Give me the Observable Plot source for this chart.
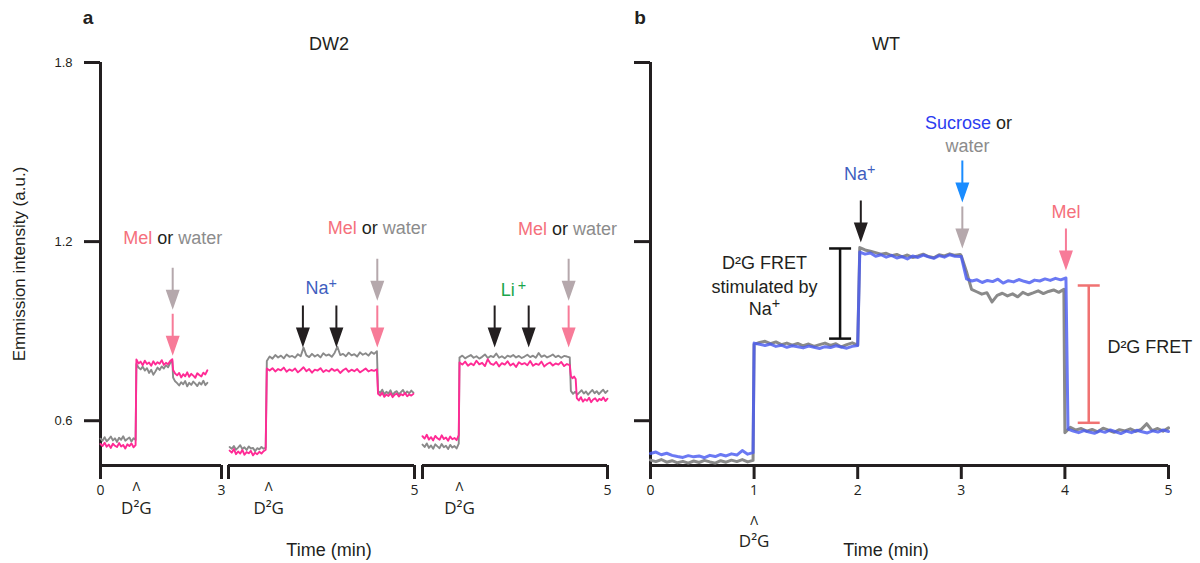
<!DOCTYPE html>
<html><head><meta charset="utf-8">
<script src="https://cdn.jsdelivr.net/npm/d3@7"></script>
<script src="https://cdn.jsdelivr.net/npm/@observablehq/plot@0.6"></script>
<style>
body{margin:0;background:#fff;}
#fig{position:relative;width:1200px;height:563px;overflow:hidden;font-family:'Liberation Sans',Arial,Helvetica,sans-serif;color:#231f20;}
.lbl{position:absolute;white-space:nowrap;transform:translate(-50%,-50%);}
</style></head><body><div id="fig"></div>
<script>
// ---------------- DATA ----------------
// Panel a, DW2, sub-panel 1 (0–3 min): gray = water, pink = Mel
const a1Segs = [[0, 0.87], [0.89, 1.78], [1.80, 2.65]];
const a1Gray = [
  [0.540,0.533,0.545,0.531,0.538,0.547,0.534,0.541,0.529,0.543,0.536,0.548,0.533,0.539,0.544,0.530,0.541,0.536],
  [0.790,0.778,0.772,0.781,0.768,0.776,0.760,0.771,0.754,0.765,0.778,0.770,0.782,0.775,0.786,0.779,0.793,0.801],
  [0.745,0.732,0.726,0.718,0.729,0.722,0.733,0.715,0.727,0.720,0.731,0.724,0.716,0.728,0.721,0.734,0.719,0.727]
];
const a1Pink = [
  [0.522,0.515,0.526,0.513,0.520,0.509,0.523,0.516,0.512,0.525,0.514,0.519,0.507,0.521,0.515,0.524,0.511,0.518],
  [0.805,0.792,0.798,0.786,0.801,0.790,0.795,0.784,0.799,0.788,0.796,0.791,0.803,0.787,0.794,0.789,0.800,0.806],
  [0.770,0.758,0.752,0.760,0.745,0.756,0.749,0.762,0.747,0.757,0.751,0.744,0.759,0.753,0.748,0.761,0.755,0.769]
];
// sub-panel 2 (Na+)
const a2Segs = [[0.03, 1.0], [1.03, 3.99], [4.02, 4.97]];
const a2Gray = [
  [0.512,0.506,0.515,0.503,0.510,0.518,0.505,0.511,0.502,0.514,0.507,0.509,0.498,0.508,0.504,0.512,0.506,0.510],
  [0.800,0.815,0.808,0.820,0.812,0.818,0.809,0.822,0.814,0.817,0.811,0.823,0.816,0.845,0.819,0.813,0.824,0.815,0.821,0.812,
   0.826,0.818,0.822,0.814,0.827,0.848,0.820,0.824,0.816,0.828,0.819,0.823,0.815,0.829,0.821,0.826,0.818,0.830,0.824,0.833],
  [0.700,0.693,0.704,0.689,0.697,0.691,0.702,0.686,0.695,0.699,0.688,0.696,0.703,0.690,0.698,0.692,0.701,0.694]
];
const a2Pink = [
  [0.500,0.493,0.505,0.488,0.497,0.490,0.502,0.486,0.495,0.491,0.499,0.484,0.493,0.488,0.496,0.490,0.498,0.503],
  [0.775,0.768,0.776,0.765,0.773,0.769,0.778,0.764,0.772,0.767,0.775,0.762,0.770,0.779,0.766,0.773,0.761,0.771,0.768,0.776,
   0.763,0.770,0.765,0.774,0.767,0.772,0.760,0.769,0.775,0.764,0.771,0.766,0.773,0.762,0.768,0.775,0.765,0.770,0.767,0.772],
  [0.690,0.684,0.694,0.680,0.688,0.683,0.692,0.679,0.687,0.691,0.681,0.689,0.685,0.693,0.682,0.688,0.684,0.690]
];
// sub-panel 3 (Li+)
const a3GraySegs = [[0, 0.98], [1.0, 3.98], [4.01, 5.0]];
const a3PinkSegs = [[0, 0.98], [1.0, 3.98], [4.01, 4.14], [4.17, 5.0]];
const a3Gray = [
  [0.520,0.512,0.524,0.509,0.517,0.506,0.521,0.514,0.508,0.522,0.511,0.516,0.505,0.519,0.510,0.515,0.507,0.523],
  [0.812,0.818,0.809,0.815,0.820,0.811,0.816,0.808,0.814,0.822,0.810,0.817,0.813,0.825,0.811,0.816,0.809,0.818,0.814,0.820,
   0.812,0.817,0.810,0.815,0.821,0.813,0.818,0.811,0.827,0.814,0.819,0.812,0.816,0.822,0.813,0.818,0.811,0.817,0.815,0.812],
  [0.700,0.690,0.697,0.688,0.695,0.702,0.691,0.698,0.687,0.696,0.703,0.692,0.699,0.689,0.697,0.704,0.693,0.700]
];
const a3Pink = [
  [0.548,0.540,0.553,0.537,0.545,0.534,0.549,0.541,0.536,0.551,0.539,0.544,0.533,0.547,0.538,0.542,0.535,0.552],
  [0.795,0.788,0.798,0.784,0.792,0.786,0.801,0.789,0.794,0.783,0.806,0.791,0.787,0.797,0.782,0.793,0.788,0.799,0.785,0.792,
   0.780,0.796,0.789,0.793,0.786,0.800,0.784,0.791,0.787,0.798,0.782,0.790,0.795,0.785,0.792,0.788,0.797,0.783,0.790,0.786],
  [0.750,0.742,0.748,0.740],
  [0.676,0.668,0.679,0.664,0.672,0.667,0.677,0.662,0.671,0.675,0.665,0.673,0.669,0.678,0.666,0.674]
];
// Panel b, WT: gray = water, blue = sucrose
const bGraySegs = [[0, 0.99], [1.0, 2.0], [2.02, 2.99], [3.0, 3.99], [4.0, 5.0]];
const bBlueSegs = [[0, 0.99], [1.0, 2.0], [2.02, 2.99], [3.0, 4.01], [4.03, 5.0]];
const bGray = [
  [0.468,0.463,0.470,0.461,0.466,0.459,0.464,0.458,0.465,0.460,0.467,0.462,0.458,0.466,0.461,0.468,0.463,0.470,0.462,0.467],
  [0.856,0.862,0.866,0.858,0.864,0.855,0.860,0.853,0.859,0.851,0.857,0.849,0.855,0.860,0.852,0.858,0.847,0.855,0.861,0.853],
  [1.180,1.172,1.168,1.163,1.158,1.161,1.153,1.157,1.149,1.155,1.147,1.152,1.158,1.150,1.146,1.156,1.152,1.159,1.154,1.157],
  [1.152,1.100,1.040,1.032,1.024,1.029,0.998,1.020,1.027,1.018,1.025,1.015,1.030,1.022,1.028,1.035,1.026,1.033,1.038,1.030,1.040],
  [0.560,0.578,0.569,0.574,0.565,0.571,0.563,0.575,0.568,0.561,0.570,0.566,0.573,0.564,0.571,0.590,0.567,0.574,0.565,0.576]
];
const bBlue = [
  [0.490,0.495,0.486,0.491,0.484,0.480,0.477,0.483,0.479,0.482,0.476,0.484,0.480,0.487,0.482,0.489,0.485,0.500,0.488,0.493],
  [0.860,0.856,0.852,0.857,0.849,0.853,0.846,0.851,0.848,0.844,0.850,0.846,0.842,0.848,0.845,0.851,0.847,0.843,0.849,0.852],
  [1.165,1.158,1.162,1.151,1.156,1.148,1.154,1.145,1.150,1.142,1.152,1.147,1.155,1.149,1.144,1.153,1.148,1.156,1.151,1.150],
  [1.150,1.075,1.068,1.072,1.063,1.070,1.066,1.074,1.061,1.069,1.065,1.073,1.067,1.062,1.071,1.068,1.075,1.070,1.077,1.072,1.078],
  [0.572,0.565,0.560,0.567,0.562,0.558,0.566,0.561,0.569,0.563,0.557,0.565,0.560,0.568,0.563,0.559,0.566,0.562,0.569,0.564]
];
// annotations (time, value at arrow tip, kind)
const a1Arrows = [{t:1.79,y:0.972,kind:"water"},{t:1.79,y:0.818,kind:"mel"}];
const a2Arrows = [{t:2.0,y:0.845,kind:"ion"},{t:2.9,y:0.845,kind:"ion"},{t:4.0,y:1.002,kind:"water"},{t:4.0,y:0.845,kind:"mel"}];
const a3Arrows = [{t:1.95,y:0.845,kind:"ion"},{t:2.87,y:0.845,kind:"ion"},{t:3.95,y:1.002,kind:"water"},{t:3.95,y:0.845,kind:"mel"}];
const bArrows  = [{t:2.03,y:1.197,kind:"ion"},{t:3.01,y:1.331,kind:"sucrose"},{t:3.01,y:1.177,kind:"water"},{t:4.01,y:1.103,kind:"mel"}];
const a1Texts = [{t:1.79,y:1.210,label:"Mel or water",kind:"plain"}];
const a2Texts = [{t:4.0,y:1.244,label:"Mel or water",kind:"plain"},{t:2.49,y:1.043,label:"Na+",kind:"na"}];
const a3Texts = [{t:3.92,y:1.240,label:"Mel or water",kind:"plain"},{t:2.46,y:1.036,label:"Li+",kind:"li"}];
const bTexts = [
  {t:2.02,y:1.425,label:"Na+",kind:"na"},
  {t:3.07,y:1.596,label:"Sucrose or",kind:"plain"},
  {t:3.06,y:1.519,label:"water",kind:"water"},
  {t:4.01,y:1.297,label:"Mel",kind:"mel"},
  {t:1.10,y:1.126,label:"D²G FRET",kind:"plain"},
  {t:1.10,y:1.046,label:"stimulated by",kind:"plain"},
  {t:1.10,y:0.975,label:"Na+",kind:"plain"}
];
const bSideText = [{t:4.41,y:0.845,label:"D²G FRET"}];
const bBars = [{t:1.83,lo:0.875,hi:1.177,kind:"ion"},{t:4.23,lo:0.593,hi:1.053,kind:"mel"}];
const a1D2G = [0.89], a2D2G = [1.08], a3D2G = [1.0], bD2G = [1.0];
const yTicks = [0.6, 1.2, 1.8];

// ---------------- STYLE ----------------
const PINK = "#ff2b95", GRAY = "#8a8a8a", BLUE = "#4a5cf0", DARK = "#231f20";
const ARROW = {water:"#b5a8ac", mel:"#f77b98", ion:"#231f20", sucrose:"#1a8cff"};
const TXT = {plain:DARK, na:"#3f5fbf", li:"#1aa64b", mel:"#f5707c", water:"#8c8c8c"};
const BAR = {ion:"#111111", mel:"#f07272"};
const FONT = "'Liberation Sans', Arial, Helvetica, sans-serif";
const TICKFONT = "'Open Sans', 'DejaVu Sans', sans-serif";
const RICH = {
  "Mel or water": [["Mel", TXT.mel], [" or ", DARK], ["water", TXT.water]],
  "Sucrose or": [["Sucrose", "#2b3cf0"], [" or", DARK]],
  "Na+": [["Na"], ["+", null, true]],
  "Li+": [["Li"], ["\u2009+", null, true]]
};
const arrowSymbol = {draw(c) {
  c.moveTo(-1,-42); c.lineTo(1,-42); c.lineTo(1,-20); c.lineTo(7,-20);
  c.lineTo(0,0); c.lineTo(-7,-20); c.lineTo(-1,-20); c.closePath();
}};
const capSymbol = {draw(c) { c.moveTo(-11,0); c.lineTo(11,0); }};

const trace = (segs, vals) => segs.flatMap(([t0,t1], k) =>
  vals[k].map((v, i, arr) => ({t: t0 + (t1 - t0) * i / (arr.length - 1), v})));

const fig = document.getElementById("fig");
function richify(svg) {
  d3.select(svg).selectAll("text").each(function() {
    const parts = RICH[this.textContent];
    if (!parts) return;
    const el = d3.select(this); el.text(null);
    for (const [s, c, sup] of parts) {
      const ts = el.append("tspan").text(s);
      if (c) ts.attr("fill", c);
      if (sup) ts.attr("dy", "-0.42em").attr("font-size", "80%");
    }
  });
  d3.select(svg).selectAll('g[aria-label="x-axis tick label"]').attr("font-family", TICKFONT).attr("font-size", 14);
  d3.select(svg).selectAll('g[aria-label="y-axis tick label"]').attr("font-family", "'Liberation Sans Narrow','Liberation Sans',sans-serif").attr("font-size", 13);
}
function place(svg, left, width) {
  const wrap = document.createElement("div");
  wrap.style.cssText = `position:absolute;left:${left}px;top:0;width:${width}px;height:563px;`;
  svg.style.background = "transparent"; svg.style.overflow = "visible"; svg.style.maxWidth = "none";
  wrap.appendChild(svg); fig.appendChild(wrap); richify(svg);
}
function common(domain, width, ml, mr, marks) {
  return Plot.plot({
    width, height: 563, marginTop: 62, marginBottom: 98, marginLeft: ml, marginRight: mr,
    x: {domain, axis: null}, y: {domain: [0.45, 1.8], axis: null},
    color: {type: "identity"},
    style: {fontFamily: FONT, fontSize: "14px", color: DARK},
    marks
  });
}
const frameMarks = (xticks, fmt, yAxis) => [
  Plot.ruleY([0.45], {strokeWidth: 3, stroke: DARK}),
  Plot.axisX({ticks: xticks, tickFormat: fmt, tickSize: 14, tickPadding: 6, strokeWidth: 3, label: null}),
  ...(yAxis ? [
    Plot.ruleX([0], {strokeWidth: 3, stroke: DARK}),
    Plot.axisY({ticks: yTicks, tickSize: 16, tickPadding: 12, strokeWidth: 3, label: null,
      tickFormat: yAxis === "labels" ? (d => d.toFixed(1)) : (() => "")})
  ] : [])
];
const annot = (arrows, texts, d2g, dyA, dyB) => [
  Plot.dot(arrows, {x: "t", y: "y", symbol: arrowSymbol, r: 5, fill: d => ARROW[d.kind], stroke: "none"}),
  Plot.text(texts, {x: "t", y: "y", text: "label", fill: d => TXT[d.kind], fontSize: 18, fontFamily: FONT}),
  Plot.text(d2g, {x: d => d, text: () => "Λ", frameAnchor: "bottom", lineAnchor: "middle", dy: dyA, fontSize: 13, fontFamily: TICKFONT, fill: DARK}),
  Plot.text(d2g, {x: d => d, text: () => "D²G", frameAnchor: "bottom", lineAnchor: "middle", dy: dyB, fontSize: 17, fontFamily: TICKFONT, fill: DARK})
];
const pairLines = (g, p, w) => [
  Plot.line(g, {x: "t", y: "v", stroke: GRAY, strokeWidth: w}),
  Plot.line(p, {x: "t", y: "v", stroke: PINK, strokeWidth: w})
];

// Panel a, sub-panel 1
place(common([0, 3], 230, 100, 9, [
  ...frameMarks([0, 3], d => String(d), "labels"),
  ...pairLines(trace(a1Segs, a1Gray), trace(a1Segs, a1Pink), 1.9),
  ...annot(a1Arrows, a1Texts, a1D2G, 21, 43)
]), 0, 230);
// sub-panel 2
place(common([0, 5], 200, 8, 6, [
  ...frameMarks([0, 5], d => d === 0 ? "" : String(d), null),
  ...pairLines(trace(a2Segs, a2Gray), trace(a2Segs, a2Pink), 1.9),
  ...annot(a2Arrows, a2Texts, a2D2G, 21, 43)
]), 220, 200);
// sub-panel 3
place(common([0, 5], 200, 8, 7, [
  ...frameMarks([0, 5], d => d === 0 ? "" : String(d), null),
  ...pairLines(trace(a3GraySegs, a3Gray), trace(a3PinkSegs, a3Pink), 1.9),
  ...annot(a3Arrows, a3Texts, a3D2G, 21, 43)
]), 414, 200);
// Panel b
place(common([0, 5], 600, 50, 32, [
  ...frameMarks([0, 1, 2, 3, 4, 5], d => String(d), "blank"),
  Plot.line(trace(bGraySegs, bGray), {x: "t", y: "v", stroke: GRAY, strokeWidth: 3}),
  Plot.line(trace(bBlueSegs, bBlue), {x: "t", y: "v", stroke: BLUE, strokeWidth: 3, strokeOpacity: 0.82}),
  Plot.ruleX(bBars, {x: "t", y1: "lo", y2: "hi", stroke: d => BAR[d.kind], strokeWidth: 2.5}),
  Plot.dot(bBars, {x: "t", y: "lo", symbol: capSymbol, r: 5, fill: "none", stroke: d => BAR[d.kind], strokeWidth: 2.5}),
  Plot.dot(bBars, {x: "t", y: "hi", symbol: capSymbol, r: 5, fill: "none", stroke: d => BAR[d.kind], strokeWidth: 2.5}),
  Plot.text(bSideText, {x: "t", y: "y", text: "label", textAnchor: "start", fill: DARK, fontSize: 18, fontFamily: FONT}),
  ...annot(bArrows, bTexts, bD2G, 55, 76)
]), 600, 600);

// titles & axis titles
const labels = [
  {s: "a", x: 88, y: 18, st: "font-weight:bold;font-size:19px;"},
  {s: "b", x: 640, y: 18, st: "font-weight:bold;font-size:19px;"},
  {s: "DW2", x: 329, y: 44, st: "font-size:18px;"},
  {s: "WT", x: 886, y: 44, st: "font-size:18px;"},
  {s: "Time (min)", x: 329, y: 550, st: "font-size:18px;"},
  {s: "Time (min)", x: 886, y: 550, st: "font-size:18px;"}
];
for (const l of labels) {
  const d = document.createElement("div");
  d.className = "lbl"; d.textContent = l.s;
  d.style.cssText += `left:${l.x}px;top:${l.y}px;${l.st}`;
  fig.appendChild(d);
}
const yl = document.createElement("div");
yl.textContent = "Emmission intensity (a.u.)";
yl.style.cssText = "position:absolute;left:20px;top:264px;white-space:nowrap;font-size:17px;transform:translate(-50%,-50%) rotate(-90deg);";
fig.appendChild(yl);
</script></body></html>
